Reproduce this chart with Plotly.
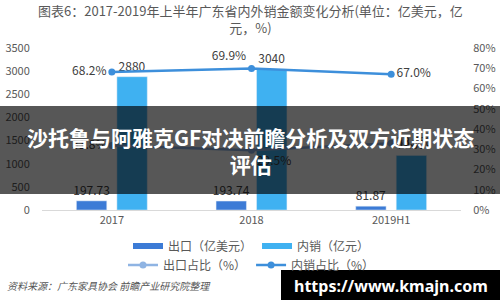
import plotly.graph_objects as go

categories = ["2017", "2018", "2019H1"]
export_vals = [197.73, 193.74, 81.87]
domestic_vals = [2880, 3040, 1180]
export_share = [31.8, 29.5, 33.0]
domestic_share = [68.2, 69.9, 67.0]
left_ticks = [0, 500, 1000, 1500, 2000, 2500, 3000, 3500]
right_ticks = [0, 10, 20, 30, 40, 50, 60, 70, 80]
right_tick_labels = ["0%", "10%", "20%", "30%", "40%", "50%", "60%", "70%", "80%"]

title_text = "图表6：2017-2019年上半年广东省内外销金额变化分析(单位：亿美元，亿<br>元，%)"
banner_text = "沙托鲁与阿雅克GF对决前瞻分析及双方近期状态<br>评估"
source_text = "资料来源：广东家具协会 前瞻产业研究院整理"
url_text = "https://www.kmajn.com"

C_EXP = "#3c7bd6"
C_DOM = "#3fb1f1"
C_EXP_L = "#8fb4e3"
C_DOM_L = "#3d8fdb"
FONT = "Noto Sans CJK SC"
GRAY = "#595959"

L, R, T, B = 42, 39, 48, 90
PW, PH = 500 - L - R, 300 - T - B


def px(xp):
    return (xp - L) / PW


def py(yp):
    return (300 - B - yp) / PH


fig = go.Figure()

fig.add_trace(go.Bar(
    x=categories, y=export_vals, name="出口（亿美元）", marker_color=C_EXP,
    text=[f"{v:.2f}" for v in export_vals], textposition="outside",
    constraintext="none",
    textfont=dict(size=12, color="#404040", family=FONT),
    showlegend=False, cliponaxis=False,
))
fig.add_trace(go.Bar(
    x=categories, y=domestic_vals, name="内销（亿元）", marker_color=C_DOM,
    text=[f"{v:.0f}" for v in domestic_vals], textposition="outside",
    constraintext="none",
    textfont=dict(size=12, color="#404040", family=FONT),
    showlegend=False, cliponaxis=False,
))

# legend row 1 entries (bar swatches)
fig.add_trace(go.Scatter(x=[None], y=[None], mode="lines", name="出口（亿美元）",
                         line=dict(color=C_EXP, width=6), legend="legend"))
fig.add_trace(go.Scatter(x=[None], y=[None], mode="lines", name="内销（亿元）",
                         line=dict(color=C_DOM, width=6), legend="legend"))

fig.add_trace(go.Scatter(
    x=categories, y=export_share, yaxis="y2", mode="lines+markers+text",
    name="出口占比（%）", line=dict(color=C_EXP_L, width=2.5),
    marker=dict(size=7, color=C_EXP_L),
    text=[f"{v:.1f}%" for v in export_share],
    textposition=["middle left", "bottom right", "middle right"],
    textfont=dict(size=12, color="#404040", family=FONT),
    legend="legend2", cliponaxis=False,
))
fig.add_trace(go.Scatter(
    x=categories, y=domestic_share, yaxis="y2", mode="lines+markers+text",
    name="内销占比（%）", line=dict(color=C_DOM_L, width=2.5),
    marker=dict(size=7, color=C_DOM_L),
    text=[f"{v:.1f}%" for v in domestic_share],
    textposition=["middle left", "top left", "middle right"],
    textfont=dict(size=12, color="#404040", family=FONT),
    legend="legend2", cliponaxis=False,
))

fig.update_layout(
    width=500, height=300, autosize=False,
    margin=dict(l=L, r=R, t=T, b=B, pad=0, autoexpand=False),
    paper_bgcolor="white", plot_bgcolor="white",
    font=dict(family=FONT, size=11, color=GRAY),
    barmode="group", bargap=0.42, bargroupgap=0.25,
    xaxis=dict(type="category", showgrid=False, showline=True, linecolor="#d9d9d9",
               linewidth=1, ticks="", tickfont=dict(size=11, color=GRAY),
               automargin=False),
    yaxis=dict(range=[0, 3500], tickvals=left_ticks, showgrid=False, zeroline=False,
               showline=False, ticks="outside", ticklen=9, tickcolor="rgba(0,0,0,0)",
               tickfont=dict(size=11, color=GRAY), automargin=False),
    yaxis2=dict(range=[0, 80], tickvals=right_ticks, ticktext=right_tick_labels,
                overlaying="y", side="right", showgrid=False, zeroline=False,
                showline=False, ticks="outside", ticklen=9, tickcolor="rgba(0,0,0,0)",
                tickfont=dict(size=11, color=GRAY), automargin=False),
    legend=dict(orientation="h", x=0.5, xanchor="center", y=py(246), yanchor="middle",
                font=dict(size=12, color=GRAY, family=FONT), bgcolor="rgba(0,0,0,0)",
                itemwidth=30, tracegroupgap=0),
    legend2=dict(orientation="h", x=0.5, xanchor="center", y=py(265), yanchor="middle",
                 font=dict(size=12, color=GRAY, family=FONT), bgcolor="rgba(0,0,0,0)",
                 itemwidth=30, tracegroupgap=0),
    shapes=[
        dict(type="rect", xref="paper", yref="paper", x0=px(0), x1=px(500),
             y0=py(194), y1=py(106), fillcolor="rgba(0,0,0,0.66)", line=dict(width=0),
             layer="above"),
        dict(type="rect", xref="paper", yref="paper", x0=px(281), x1=px(500),
             y0=py(300), y1=py(270), fillcolor="black", line=dict(width=0),
             layer="above"),
    ],
    annotations=[
        dict(text=title_text, xref="paper", yref="paper", x=px(250), y=py(19),
             xanchor="center", yanchor="middle", showarrow=False,
             font=dict(size=13, color=GRAY, family=FONT)),
        dict(text="<b>" + banner_text + "</b>", xref="paper", yref="paper", x=px(250),
             y=py(150), xanchor="center", yanchor="middle", showarrow=False,
             font=dict(size=21, color="white", family=FONT)),
        dict(text="<i>" + source_text + "</i>", xref="paper", yref="paper", x=px(5),
             y=py(285), xanchor="left", yanchor="middle", showarrow=False,
             font=dict(size=10, color="#555555", family=FONT)),
        dict(text="<b>" + url_text + "</b>", xref="paper", yref="paper", x=px(391),
             y=py(286), xanchor="center", yanchor="middle", showarrow=False,
             font=dict(size=16, color="white", family="Noto Sans")),
    ],
)

fig.write_html("out.html")
